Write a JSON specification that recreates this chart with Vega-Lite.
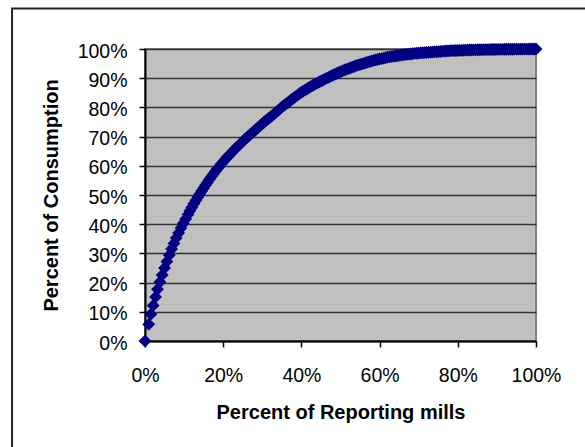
{
  "$schema": "https://vega.github.io/schema/vega-lite/v6.json",
  "width": 391,
  "height": 292,
  "autosize": "none",
  "padding": {"left": 145, "top": 49, "right": 49, "bottom": 106},
  "background": "white",
  "config": {
    "font": "Liberation Sans",
    "view": {"fill": "#C0C0C0", "stroke": "#808080", "strokeWidth": 2},
    "axis": {"labelColor": "#000000", "titleColor": "#000000", "domainColor": "#000000", "tickColor": "#000000"}
  },
  "resolve": {"scale": {"x": "independent", "y": "independent"}, "axis": {"x": "independent", "y": "independent"}},
  "data": {
    "values": [
      {"x": 0, "y": 0},
      {"x": 0.0095, "y": 0.057},
      {"x": 0.015, "y": 0.092},
      {"x": 0.021, "y": 0.122},
      {"x": 0.027, "y": 0.151},
      {"x": 0.032, "y": 0.177},
      {"x": 0.038, "y": 0.202},
      {"x": 0.044, "y": 0.226},
      {"x": 0.05, "y": 0.25},
      {"x": 0.056, "y": 0.272},
      {"x": 0.062, "y": 0.294},
      {"x": 0.068, "y": 0.315},
      {"x": 0.074, "y": 0.334},
      {"x": 0.08, "y": 0.353},
      {"x": 0.086, "y": 0.37},
      {"x": 0.092, "y": 0.387},
      {"x": 0.098, "y": 0.403},
      {"x": 0.104, "y": 0.418},
      {"x": 0.11, "y": 0.433},
      {"x": 0.115, "y": 0.446},
      {"x": 0.12, "y": 0.458},
      {"x": 0.125, "y": 0.47},
      {"x": 0.13, "y": 0.481},
      {"x": 0.135, "y": 0.492},
      {"x": 0.14, "y": 0.503},
      {"x": 0.145, "y": 0.514},
      {"x": 0.15, "y": 0.524},
      {"x": 0.155, "y": 0.534},
      {"x": 0.16, "y": 0.544},
      {"x": 0.165, "y": 0.554},
      {"x": 0.17, "y": 0.563},
      {"x": 0.175, "y": 0.572},
      {"x": 0.18, "y": 0.581},
      {"x": 0.185, "y": 0.59},
      {"x": 0.19, "y": 0.598},
      {"x": 0.195, "y": 0.606},
      {"x": 0.2, "y": 0.614},
      {"x": 0.205, "y": 0.622},
      {"x": 0.21, "y": 0.629},
      {"x": 0.215, "y": 0.636},
      {"x": 0.22, "y": 0.643},
      {"x": 0.225, "y": 0.65},
      {"x": 0.23, "y": 0.657},
      {"x": 0.235, "y": 0.664},
      {"x": 0.24, "y": 0.67},
      {"x": 0.245, "y": 0.677},
      {"x": 0.25, "y": 0.683},
      {"x": 0.255, "y": 0.69},
      {"x": 0.26, "y": 0.696},
      {"x": 0.265, "y": 0.702},
      {"x": 0.27, "y": 0.708},
      {"x": 0.275, "y": 0.714},
      {"x": 0.28, "y": 0.72},
      {"x": 0.285, "y": 0.726},
      {"x": 0.29, "y": 0.732},
      {"x": 0.295, "y": 0.738},
      {"x": 0.3, "y": 0.744},
      {"x": 0.305, "y": 0.75},
      {"x": 0.31, "y": 0.755},
      {"x": 0.315, "y": 0.761},
      {"x": 0.32, "y": 0.766},
      {"x": 0.325, "y": 0.772},
      {"x": 0.33, "y": 0.777},
      {"x": 0.335, "y": 0.783},
      {"x": 0.34, "y": 0.789},
      {"x": 0.345, "y": 0.795},
      {"x": 0.35, "y": 0.801},
      {"x": 0.355, "y": 0.806},
      {"x": 0.36, "y": 0.811},
      {"x": 0.365, "y": 0.816},
      {"x": 0.37, "y": 0.821},
      {"x": 0.375, "y": 0.827},
      {"x": 0.38, "y": 0.832},
      {"x": 0.385, "y": 0.837},
      {"x": 0.39, "y": 0.842},
      {"x": 0.395, "y": 0.847},
      {"x": 0.4, "y": 0.852},
      {"x": 0.405, "y": 0.856},
      {"x": 0.41, "y": 0.86},
      {"x": 0.415, "y": 0.864},
      {"x": 0.42, "y": 0.868},
      {"x": 0.425, "y": 0.872},
      {"x": 0.43, "y": 0.876},
      {"x": 0.435, "y": 0.88},
      {"x": 0.44, "y": 0.883},
      {"x": 0.445, "y": 0.887},
      {"x": 0.45, "y": 0.89},
      {"x": 0.455, "y": 0.893},
      {"x": 0.46, "y": 0.897},
      {"x": 0.465, "y": 0.9},
      {"x": 0.47, "y": 0.903},
      {"x": 0.475, "y": 0.907},
      {"x": 0.48, "y": 0.91},
      {"x": 0.485, "y": 0.913},
      {"x": 0.49, "y": 0.916},
      {"x": 0.495, "y": 0.919},
      {"x": 0.5, "y": 0.922},
      {"x": 0.505, "y": 0.925},
      {"x": 0.51, "y": 0.928},
      {"x": 0.515, "y": 0.93},
      {"x": 0.52, "y": 0.933},
      {"x": 0.525, "y": 0.935},
      {"x": 0.53, "y": 0.938},
      {"x": 0.535, "y": 0.94},
      {"x": 0.54, "y": 0.943},
      {"x": 0.545, "y": 0.945},
      {"x": 0.55, "y": 0.947},
      {"x": 0.555, "y": 0.949},
      {"x": 0.56, "y": 0.951},
      {"x": 0.565, "y": 0.953},
      {"x": 0.57, "y": 0.955},
      {"x": 0.575, "y": 0.957},
      {"x": 0.58, "y": 0.959},
      {"x": 0.585, "y": 0.961},
      {"x": 0.59, "y": 0.963},
      {"x": 0.595, "y": 0.964},
      {"x": 0.6, "y": 0.966},
      {"x": 0.605, "y": 0.967},
      {"x": 0.61, "y": 0.969},
      {"x": 0.615, "y": 0.97},
      {"x": 0.62, "y": 0.972},
      {"x": 0.625, "y": 0.973},
      {"x": 0.63, "y": 0.974},
      {"x": 0.635, "y": 0.975},
      {"x": 0.64, "y": 0.976},
      {"x": 0.645, "y": 0.977},
      {"x": 0.65, "y": 0.978},
      {"x": 0.655, "y": 0.979},
      {"x": 0.66, "y": 0.98},
      {"x": 0.665, "y": 0.981},
      {"x": 0.67, "y": 0.982},
      {"x": 0.675, "y": 0.9825},
      {"x": 0.68, "y": 0.983},
      {"x": 0.685, "y": 0.984},
      {"x": 0.69, "y": 0.985},
      {"x": 0.695, "y": 0.9855},
      {"x": 0.7, "y": 0.986},
      {"x": 0.705, "y": 0.9865},
      {"x": 0.71, "y": 0.987},
      {"x": 0.715, "y": 0.9875},
      {"x": 0.72, "y": 0.988},
      {"x": 0.725, "y": 0.9885},
      {"x": 0.73, "y": 0.989},
      {"x": 0.735, "y": 0.9895},
      {"x": 0.74, "y": 0.99},
      {"x": 0.745, "y": 0.9905},
      {"x": 0.75, "y": 0.991},
      {"x": 0.755, "y": 0.9915},
      {"x": 0.76, "y": 0.992},
      {"x": 0.765, "y": 0.9925},
      {"x": 0.77, "y": 0.993},
      {"x": 0.775, "y": 0.9935},
      {"x": 0.78, "y": 0.994},
      {"x": 0.785, "y": 0.9942},
      {"x": 0.79, "y": 0.9945},
      {"x": 0.795, "y": 0.9948},
      {"x": 0.8, "y": 0.995},
      {"x": 0.805, "y": 0.9953},
      {"x": 0.81, "y": 0.9955},
      {"x": 0.815, "y": 0.9958},
      {"x": 0.82, "y": 0.996},
      {"x": 0.825, "y": 0.9962},
      {"x": 0.83, "y": 0.9965},
      {"x": 0.835, "y": 0.9967},
      {"x": 0.84, "y": 0.997},
      {"x": 0.845, "y": 0.9972},
      {"x": 0.85, "y": 0.9973},
      {"x": 0.855, "y": 0.9974},
      {"x": 0.86, "y": 0.9975},
      {"x": 0.865, "y": 0.9977},
      {"x": 0.87, "y": 0.9978},
      {"x": 0.875, "y": 0.9979},
      {"x": 0.88, "y": 0.998},
      {"x": 0.885, "y": 0.9982},
      {"x": 0.89, "y": 0.9983},
      {"x": 0.895, "y": 0.9984},
      {"x": 0.9, "y": 0.9985},
      {"x": 0.905, "y": 0.9987},
      {"x": 0.91, "y": 0.9988},
      {"x": 0.915, "y": 0.9989},
      {"x": 0.92, "y": 0.999},
      {"x": 0.925, "y": 0.9991},
      {"x": 0.93, "y": 0.9992},
      {"x": 0.935, "y": 0.9993},
      {"x": 0.94, "y": 0.9993},
      {"x": 0.945, "y": 0.9994},
      {"x": 0.95, "y": 0.9995},
      {"x": 0.955, "y": 0.9996},
      {"x": 0.96, "y": 0.9996},
      {"x": 0.965, "y": 0.9997},
      {"x": 0.97, "y": 0.9997},
      {"x": 0.975, "y": 0.9998},
      {"x": 0.98, "y": 0.9998},
      {"x": 0.985, "y": 0.9999},
      {"x": 0.99, "y": 0.9999},
      {"x": 0.995, "y": 1.0},
      {"x": 1.0, "y": 1.0}
    ]
  },
  "layer": [
    {
      "mark": {"type": "point", "shape": "diamond", "filled": true, "color": "#000080", "opacity": 1, "size": 165, "strokeWidth": 0},
      "encoding": {
        "x": {
          "field": "x",
          "type": "quantitative",
          "scale": {"domain": [0, 1], "nice": false, "zero": false},
          "axis": {
            "values": [0, 0.2, 0.4, 0.6, 0.8, 1],
            "format": ".0%",
            "title": "Percent of Reporting mills",
            "titleFontSize": 20,
            "titleFontWeight": "bold",
            "titlePadding": 18,
            "labelFontSize": 19.5,
            "labelPadding": 19,
            "tickSize": 6,
            "tickWidth": 1.5,
            "domainWidth": 2,
            "grid": false,
            "labelFlush": false,
            "labelOverlap": false
          }
        },
        "y": {
          "field": "y",
          "type": "quantitative",
          "scale": {"domain": [0, 1], "nice": false, "zero": false},
          "axis": {
            "values": [0, 0.1, 0.2, 0.3, 0.4, 0.5, 0.6, 0.7, 0.8, 0.9, 1],
            "format": ".0%",
            "title": "Percent of Consumption",
            "titleFontSize": 20,
            "titleFontWeight": "bold",
            "titlePadding": 16,
            "labelFontSize": 19.5,
            "labelPadding": 12,
            "labelOffset": 2,
            "tickSize": 6,
            "tickWidth": 1.5,
            "domainWidth": 2,
            "grid": true,
            "gridColor": "#333333",
            "gridWidth": 1.3,
            "labelFlush": false,
            "labelOverlap": false
          }
        }
      }
    },
    {
      "data": {"values": [{"frame": 1}]},
      "mark": {"type": "rect", "fill": null, "stroke": "#222222", "strokeWidth": 2, "clip": false},
      "encoding": {
        "x": {"datum": -0.34, "type": "quantitative", "scale": {"domain": [0, 1], "nice": false, "zero": false}, "axis": null},
        "x2": {"datum": 1.25},
        "y": {"datum": 1.139, "type": "quantitative", "scale": {"domain": [0, 1], "nice": false, "zero": false}, "axis": null},
        "y2": {"datum": -0.45}
      }
    }
  ]
}
